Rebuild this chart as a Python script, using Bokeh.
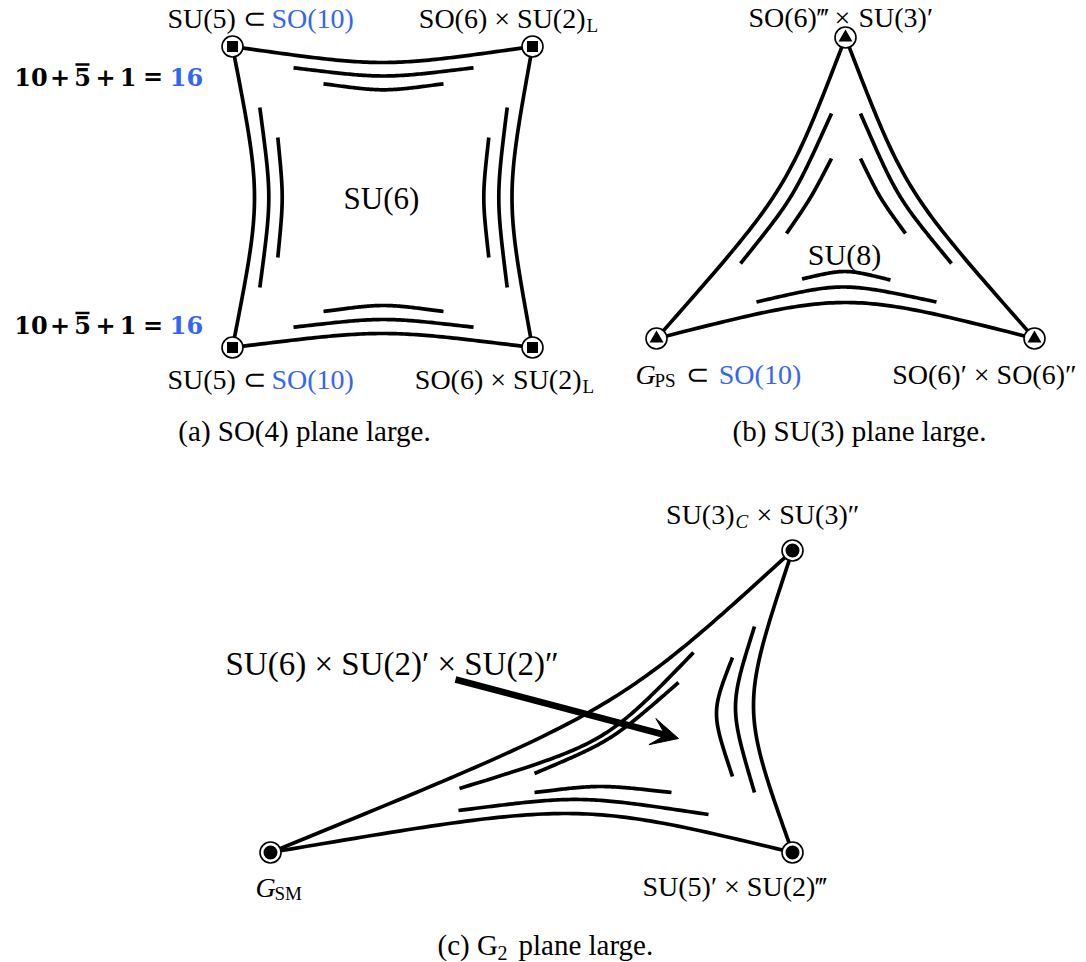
import numpy as np
from bokeh.plotting import figure
from bokeh.models import Range1d, Arrow, VeeHead
from bokeh.core.properties import value
from bokeh.embed import file_html
from bokeh.resources import INLINE

# ---------------- geometry (pixel coordinates) -------------
# panel (a): SO(4) plane
a_node_x = [232, 532, 232, 532]
a_node_y = [46, 46, 347, 347]
# each curve: start point, middle point, end point
a_edges = [((232, 46), (382, 62), (532, 46)),
           ((232, 347), (382, 333), (532, 347)),
           ((232, 46), (254, 197), (232, 347)),
           ((532, 46), (511.5, 197), (532, 347))]
a_inner = [((293, 67.3), (383, 75.5), (473, 67.3)),
           ((323, 83.3), (383, 89.3), (443, 83.3)),
           ((293, 326.7), (383, 319), (473, 326.7)),
           ((323, 311), (383, 305), (443, 311)),
           ((259.3, 107), (268.3, 197), (259.3, 287)),
           ((277.3, 137), (281.7, 197), (277.3, 257)),
           ((506.7, 107), (498.3, 197), (506.7, 287)),
           ((488.3, 137), (483.3, 197), (488.3, 257))]

# panel (b): SU(3) plane
b_node_x = [845, 656, 1034]
b_node_y = [37, 338, 338]
b_edges = [((845, 37), (777, 190), (656, 338)),
           ((845, 37), (913, 190), (1034, 338)),
           ((656, 338), (845, 302), (1034, 338))]
b_inner = [((756, 301.5), (843, 286.5), (936, 301.5)),
           ((801.5, 278.5), (845, 271), (890, 279.5)),
           ((831, 113), (791, 195), (740, 263)),
           ((831, 158), (810, 197), (786, 233)),
           ((860, 113), (899, 195), (951, 263)),
           ((860, 158), (880, 197), (905, 233))]

# panel (c): G2 plane
c_node_x = [270, 792, 792]
c_node_y = [852, 550, 852]
c_edges = [((270, 852), (595, 708), (792, 550)),
           ((792, 550), (753, 705), (792, 852)),
           ((270, 852), (565, 813), (792, 852))]
c_inner = [((754, 626), (735, 707), (754, 792)),
           ((732, 657), (716, 713), (732, 776)),
           ((458, 810), (580, 799), (708, 814)),
           ((534, 792), (600, 786), (671, 792)),
           ((459, 788), (598, 737), (693, 652)),
           ((534, 773), (610, 737), (678, 682))]
c_arrow = (455, 679, 678, 738)

# sum annotation  10 + 5bar + 1 = 16
sum_tokens = ["10", "+", "5", "+", "1", "=", "16"]
sum_x = [30.5, 59.5, 82, 105, 127.5, 152.5, 186]
sum_is_blue = [False, False, False, False, False, False, True]
sum_baselines = [83.3, 331.7]
sum_bar_y = [64, 312.5]

BLUE = "#3465f5"
FONT = "Liberation Serif"
BOLD_FONT = "DejaVu Serif"

W, H = 1086, 962
# ------------------------------------------------------------------------------------
p = figure(width=W, height=H, output_backend="svg", toolbar_location=None,
           x_range=Range1d(0, W), y_range=Range1d(H, 0), min_border=0)
p.axis.visible = False
p.grid.visible = False
p.outline_line_color = None
p.background_fill_color = "white"
p.border_fill_color = "white"


def curve(p0, m, p2, n=80):
    p0, m, p2 = np.array(p0, float), np.array(m, float), np.array(p2, float)
    v = (8 * m - p0 - p2) / 6.0
    t = np.linspace(0, 1, n)[:, None]
    pts = (1 - t) ** 3 * p0 + (1 - (1 - t) ** 3 - t ** 3) * v + t ** 3 * p2
    return list(pts[:, 0]), list(pts[:, 1])


def draw_curves(curves, width=3.7):
    xs, ys = [], []
    for c in curves:
        x, y = curve(*c)
        xs.append(x)
        ys.append(y)
    p.multi_line(xs, ys, line_color="black", line_width=width, line_cap="butt",
                 line_join="round")


for group in (a_edges, a_inner, b_edges, b_inner, c_edges, c_inner):
    draw_curves(group)

# arrow
p.add_layout(Arrow(end=VeeHead(size=27, fill_color="black", line_color="black", line_width=1),
                   x_start=c_arrow[0], y_start=c_arrow[1], x_end=c_arrow[2], y_end=c_arrow[3],
                   line_width=6.5, line_color="black"))

# nodes
for nx, ny, inner, isz in ((a_node_x, a_node_y, "square", 11),
                           (b_node_x, b_node_y, "triangle", 14),
                           (c_node_x, c_node_y, "circle", 14)):
    p.scatter(nx, ny, marker="circle", size=21, fill_color="white", line_color="black",
              line_width=1.6)
    p.scatter(nx, ny, marker=inner, size=isz, fill_color="black", line_color="black",
              line_width=0)


def txt(x, y, s, size=28, color="black", style="normal", align="left", font=FONT):
    # y is the baseline; correct for the renderer's offset
    p.text([x], [y - 0.3 * size], text=[s], text_font=value(font),
           text_font_size=f"{size}px", text_color=color, text_font_style=style,
           text_align=align, text_baseline="alphabetic")


# panel (a) labels
for yb in (26, 387):
    txt(167, yb, "SU(5)")
    txt(254, yb, "\u2282", align="center")
    txt(271, yb, "SO(10)", color=BLUE)
txt(585, 26, "SO(6) \u00d7 SU(2)", align="right")
txt(586, 31, "L", size=19)
txt(581, 387, "SO(6) \u00d7 SU(2)", align="right")
txt(582, 392, "L", size=19)
txt(381, 207, "SU(6)", size=31, align="center")

for yb, by in zip(sum_baselines, sum_bar_y):
    for tok, tx, blue in zip(sum_tokens, sum_x, sum_is_blue):
        txt(tx, yb, tok, size=24, color=BLUE if blue else "black", style="bold",
            align="center", font=BOLD_FONT)
    p.line([75, 89], [by, by], line_color="black", line_width=2.6)

# panel (b) labels
txt(748, 25, "SO(6)\u2034")
txt(842, 25, "\u00d7", align="center")
txt(858, 25, "SU(3)\u2032")
txt(635, 382, "G", style="italic")
txt(654, 386, "PS", size=19)
txt(697, 382, "\u2282", align="center")
txt(718.3, 382, "SO(10)", color=BLUE)
txt(891.7, 382, "SO(6)\u2032 \u00d7 SO(6)\u2033")
txt(844, 263, "SU(8)", size=30, align="center")

# panel (c) labels
txt(734, 522, "SU(3)", align="right")
txt(735, 527, "C", size=19, style="italic")
txt(756, 522, "\u00d7 SU(3)\u2033")
txt(255, 895, "G", style="italic")
txt(274, 899, "SM", size=19)
txt(642, 894, "SU(5)\u2032 \u00d7 SU(2)\u2034")
txt(225, 673, "SU(6) \u00d7 SU(2)\u2032 \u00d7 SU(2)\u2033", size=33)

# captions
txt(304, 439, "(a) SO(4) plane large.", size=29, align="center")
txt(859, 439, "(b) SU(3) plane large.", size=29, align="center")
txt(437, 953, "(c) G", size=29)
txt(497, 958, "2", size=20)
txt(518, 953, "plane large.", size=29)

open("out.html", "w").write(file_html(p, INLINE))
